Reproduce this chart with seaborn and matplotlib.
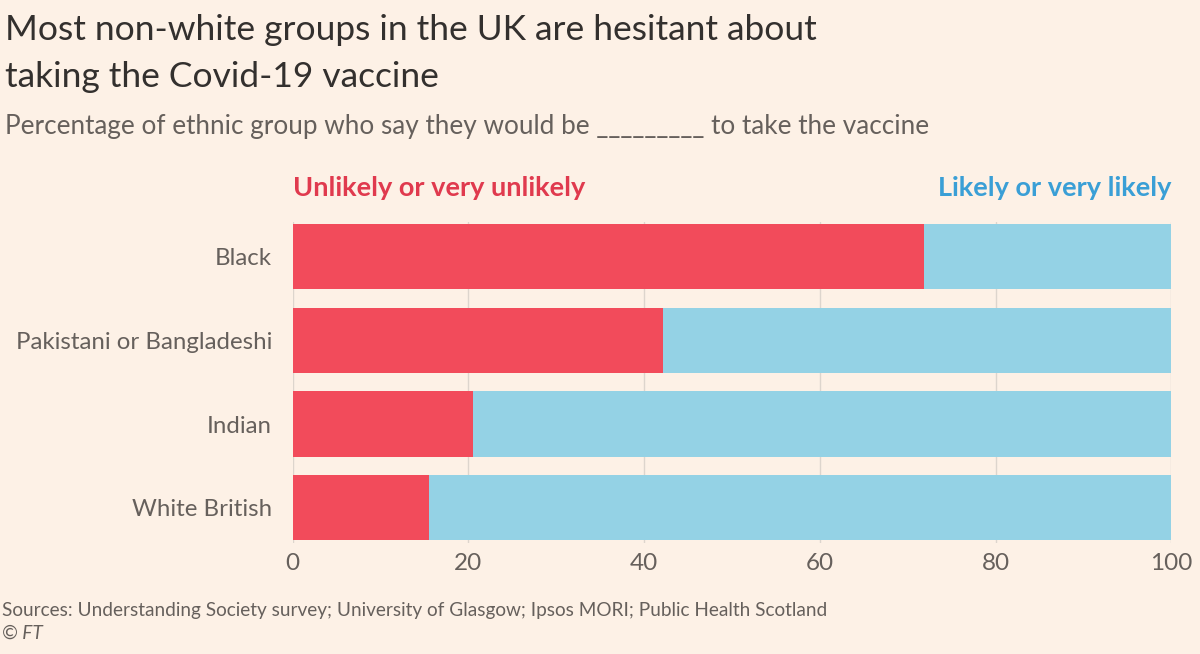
import numpy as np
import matplotlib
matplotlib.use("Agg")
import matplotlib.pyplot as plt
import pandas as pd
import seaborn as sns

sns.set_theme(style="white")
plt.rcParams['font.family'] = ['Lato', 'DejaVu Sans']

groups = ['Black', 'Pakistani or Bangladeshi', 'Indian', 'White British']
unlikely = [71.9, 42.2, 20.5, 15.5]
likely = [28.1, 57.8, 79.5, 84.5]

bg = '#FDF1E6'
red = '#F24B5B'
blue = '#94D2E5'
grey_text = '#66605C'

df = pd.DataFrame({'group': groups, 'unlikely': unlikely, 'likely': likely})
df['total'] = df['unlikely'] + df['likely']

fig = plt.figure(figsize=(12, 6.54), dpi=100, facecolor=bg)
ax = fig.add_axes([0.244, 0.170, 0.732, 0.491], facecolor=bg)

# blue bar for the whole 100%, red bar drawn over it
sns.barplot(data=df, x='total', y='group', orient='h', color=blue,
            width=0.78, saturation=1, linewidth=0, ax=ax, zorder=2)
sns.barplot(data=df, x='unlikely', y='group', orient='h', color=red,
            width=0.78, saturation=1, linewidth=0, ax=ax, zorder=3)

ax.set_xlim(0, 100)
ax.set_ylim(3.42, -0.42)
ax.set_xticks([0, 20, 40, 60, 80, 100])
ax.grid(axis='x', color='#DDD5CD', linewidth=1, zorder=0)
ax.set_axisbelow(True)
for s in ax.spines.values():
    s.set_visible(False)
ax.set_xlabel('')
ax.set_ylabel('')
ax.tick_params(axis='both', length=0, labelcolor=grey_text)
ax.tick_params(axis='y', pad=15, labelsize=17.3)
ax.tick_params(axis='x', pad=7, labelsize=17.5)

fig.text(0.004, 0.954, 'Most non-white groups in the UK are hesitant about',
         fontsize=25.5, color='#33302E', va='center', ha='left')
fig.text(0.004, 0.882, 'taking the Covid-19 vaccine',
         fontsize=25.5, color='#33302E', va='center', ha='left')
fig.text(0.004, 0.806,
         'Percentage of ethnic group who say they would be _________ to take the vaccine',
         fontsize=18.8, color=grey_text, va='center', ha='left')

fig.text(0.244, 0.712, 'Unlikely or very unlikely', fontsize=19.5,
         fontweight='bold', color='#E03A4E', va='center', ha='left')
fig.text(0.976, 0.712, 'Likely or very likely', fontsize=19.5,
         fontweight='bold', color='#3A9FD6', va='center', ha='right')

fig.text(0.002, 0.067,
         'Sources: Understanding Society survey; University of Glasgow; Ipsos MORI; Public Health Scotland',
         fontsize=13.7, color=grey_text, va='center', ha='left')
fig.text(0.002, 0.031, '© FT', fontsize=13.7, color=grey_text,
         style='italic', va='center', ha='left')

fig.savefig('out.png', dpi=100, facecolor=bg)
